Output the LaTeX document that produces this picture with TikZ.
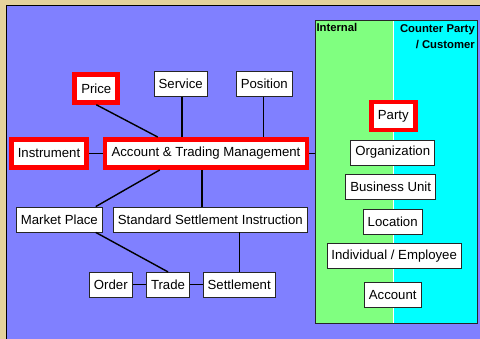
\documentclass[tikz,border=0pt]{standalone}
\usepackage{fontspec}
\setmainfont{Liberation Sans}
\definecolor{sand}{RGB}{228,210,156}
\definecolor{sky}{RGB}{128,128,255}
\definecolor{internal}{RGB}{128,255,128}
\definecolor{counter}{RGB}{0,255,255}
\tikzset{entity/.style = {draw = black!85, fill = white, line width = 0.8,
                          inner xsep = 4.5, inner ysep = 0, minimum height = 25,
                          font = \fontsize{13.2}{15}\selectfont}}
\tikzset{keyentity/.style = {entity, draw = red, line width = 4.7,
                             inner xsep = 6.5, minimum height = 28.2}}
\tikzset{link/.style = {black, line width = 1.4}}
\tikzset{header/.style = {inner sep = 0, font = \fontsize{11.3}{16}\selectfont\bfseries}}

\begin{document}
\begin{tikzpicture}[x = 1pt, y = -1pt]
    \useasboundingbox (0, 0) rectangle (480, 339);
    \fill [sand] (0, 0) rectangle (480, 339);
    \fill [sky] (6.7, 5) rectangle (480, 339);
    \draw [black, line width = 0.8] (6.7, 339) -- (6.7, 5) -- (480, 5);
    \fill [internal] (315.3, 20.7) rectangle (393.3, 323.3);
    \fill [counter] (393.3, 20.7) rectangle (477.3, 323.3);
    \draw [white, line width = 0.4] (393.3, 20.7) -- (393.3, 323.3);
    \draw [black!85, line width = 0.8] (315.3, 20.7) rectangle (477.3, 323.3);
    \coordinate (panel) at (315.3, 153.5);
    \node (internaltitle) at (316.3, 23.5) [header, anchor = north west] {Internal};
    \node (countertitle) at (475, 24.5) [header, anchor = north east, align = right] {Counter Party\\/ Customer};

    \node (price) at (96.3, 88.3) [keyentity] {Price};
    \node (service) at (180.7, 83.7) [entity] {Service};
    \node (position) at (264.3, 83.7) [entity] {Position};
    \node (instrument) at (49, 153.5) [keyentity] {Instrument};
    \node (atm) at (206, 153.5) [keyentity] {Account \& Trading Management};
    \node (market) at (59.3, 219.5) [entity] {Market Place};
    \node (ssi) at (210.3, 219.5) [entity] {Standard Settlement Instruction};
    \node (order) at (110.8, 284.8) [entity] {Order};
    \node (trade) at (168, 284.8) [entity] {Trade};
    \node (settlement) at (239.2, 284.8) [entity] {Settlement};

    \node (party) at (393.3, 116) [keyentity] {Party};
    \node (organization) at (392.7, 152.5) [entity] {Organization};
    \node (unit) at (390.7, 187.2) [entity] {Business Unit};
    \node (location) at (392.7, 221.8) [entity] {Location};
    \node (employee) at (394.2, 256.2) [entity] {Individual / Employee};
    \node (account) at (392.7, 295.2) [entity] {Account};

    \draw [link] (price.south) -- ([xshift = 55]atm.north west);
    \draw [link] ([xshift = 1.3]service.south) -- ([xshift = 1.3]service.south |- atm.north);
    \draw [link] ([xshift = -1]position.south) -- ([xshift = -1]position.south |- atm.north);
    \draw [link] (instrument) -- (atm);
    \draw [link] (atm.east) -- (panel);
    \draw [link] ([xshift = 57]atm.south west) -- ([xshift = -7]market.north east);
    \draw [link] ([xshift = -4]atm.south) -- ([xshift = -4]atm.south |- ssi.north);
    \draw [link] ([xshift = -7]market.south east) -- (trade.north);
    \draw [link] (settlement.north) -- (settlement.north |- ssi.south);
    \draw [link] (order) -- (trade);
    \draw [link] (trade) -- (settlement);
\end{tikzpicture}
\end{document}
